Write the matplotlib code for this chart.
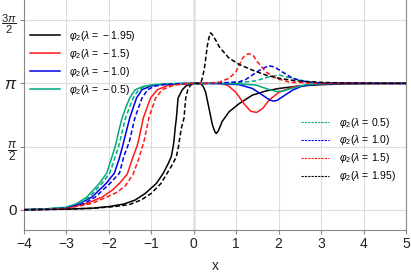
import numpy as np
import matplotlib
matplotlib.use('Agg')
import matplotlib.pyplot as plt
from matplotlib.lines import Line2D

plt.rcParams['font.family'] = 'Liberation Sans'
plt.rcParams['mathtext.fontset'] = 'custom'
plt.rcParams['mathtext.rm'] = 'Liberation Sans'
plt.rcParams['mathtext.it'] = 'Liberation Sans:italic'

# values, y in units of pi
# lambda = -1.95 (solid black)
x_m195 = [-4, -3.5, -3.0, -2.4, -2.0, -1.65, -1.38, -1.14, -0.88, -0.72, -0.60, -0.53, -0.485,
          -0.465, -0.44, -0.41, -0.37, -0.27, -0.18, -0.08, 0.0, 0.12, 0.18, 0.23, 0.28, 0.36,
          0.44, 0.50, 0.53, 0.58, 0.67, 0.75, 0.83, 1.07, 1.38, 1.70, 2.01, 2.49, 3.0, 3.5, 4.0, 5.0]
y_m195 = [0, 0.002, 0.005, 0.012, 0.025, 0.045, 0.077, 0.13, 0.209, 0.288, 0.367, 0.42, 0.50,
          0.55, 0.64, 0.725, 0.884, 0.95, 0.98, 0.995, 1.0, 1.0, 0.995, 0.97, 0.93, 0.80,
          0.67, 0.615, 0.604, 0.625, 0.70, 0.736, 0.775, 0.84, 0.907, 0.94, 0.96, 0.98, 0.99, 0.995, 0.998, 1.0]

# lambda = -1.5 (solid red)
x_m15 = [-4, -3.5, -3.0, -2.52, -2.16, -1.90, -1.75, -1.57, -1.50, -1.43, -1.34, -1.30, -1.19,
         -1.02, -0.86, -0.60, -0.30, 0.0, 0.4, 0.65, 0.80, 0.99, 1.18, 1.34, 1.48, 1.62, 1.78,
         2.01, 2.33, 2.8, 3.3, 5.0]
y_m15 = [0, 0.004, 0.012, 0.05, 0.10, 0.16, 0.21, 0.28, 0.35, 0.42, 0.50, 0.55, 0.725,
         0.884, 0.95, 0.985, 0.997, 1.0, 1.0, 0.997, 0.985, 0.93, 0.84, 0.78, 0.77, 0.80, 0.87,
         0.93, 0.97, 0.992, 0.998, 1.0]

# lambda = -1.0 (solid blue)
x_m10 = [-4, -3.5, -3.0, -2.68, -2.40, -2.06, -1.87, -1.76, -1.68, -1.51, -1.35, -1.22, -1.0,
         -0.8, -0.4, 0.0, 0.6, 1.07, 1.38, 1.62, 1.78, 1.87, 1.96, 2.09, 2.33, 2.56, 3.0, 3.5, 5.0]
y_m10 = [0, 0.005, 0.015, 0.05, 0.10, 0.21, 0.29, 0.40, 0.50, 0.725, 0.884, 0.95, 0.98,
         0.99, 0.998, 1.0, 1.0, 0.99, 0.96, 0.907, 0.87, 0.86, 0.865, 0.894, 0.947, 0.98, 0.997, 1.0, 1.0]

# lambda = -0.5 (solid teal)
x_m05 = [-4, -3.5, -3.0, -2.75, -2.52, -2.22, -2.05, -1.85, -1.77, -1.69, -1.60, -1.51, -1.38,
         -1.2, -1.0, -0.6, 0.0, 1.0, 1.46, 1.74, 1.95, 2.10, 2.33, 2.64, 3.1, 5.0]
y_m05 = [0, 0.007, 0.02, 0.05, 0.10, 0.21, 0.29, 0.50, 0.62, 0.725, 0.81, 0.884, 0.95,
         0.975, 0.988, 0.998, 1.0, 0.998, 0.987, 0.955, 0.935, 0.94, 0.963, 0.99, 0.999, 1.0]

# lambda = 0.5 (dashed teal)
x_p05 = [-4, -3.5, -3.0, -2.70, -2.46, -2.16, -1.98, -1.77, -1.61, -1.43, -1.30, -1.1, -0.9,
         -0.5, 0.0, 1.0, 1.46, 1.74, 2.01, 2.33, 2.64, 3.1, 5.0]
y_p05 = [0, 0.006, 0.018, 0.05, 0.10, 0.21, 0.29, 0.50, 0.725, 0.884, 0.95, 0.978, 0.99,
         0.998, 1.0, 1.003, 1.02, 1.05, 1.066, 1.04, 1.015, 1.001, 1.0]

# lambda = 1.0 (dashed blue)
x_p10 = [-4, -3.5, -3.0, -2.58, -2.32, -1.97, -1.75, -1.65, -1.56, -1.51, -1.39, -1.22, -1.09,
         -0.9, -0.7, -0.3, 0.5, 1.07, 1.22, 1.38, 1.46, 1.58, 1.76, 1.90, 2.09, 2.33, 2.64, 3.0, 5.0]
y_p10 = [0, 0.004, 0.013, 0.05, 0.10, 0.21, 0.29, 0.42, 0.50, 0.55, 0.725, 0.884, 0.95,
         0.98, 0.99, 0.998, 1.0, 1.013, 1.03, 1.066, 1.084, 1.11, 1.14, 1.13, 1.09, 1.04, 1.012, 1.002, 1.0]

# lambda = 1.5 (dashed red)
x_p15 = [-4, -3.5, -3.0, -2.40, -2.05, -1.80, -1.61, -1.43, -1.30, -1.21, -1.16, -1.06, -0.90,
         -0.745, -0.48, -0.15, 0.3, 0.6, 0.83, 0.99, 1.15, 1.22, 1.30, 1.40, 1.50, 1.70, 1.94,
         2.25, 2.8, 5.0]
y_p15 = [0, 0.003, 0.01, 0.05, 0.10, 0.14, 0.19, 0.28, 0.40, 0.50, 0.56, 0.725, 0.884,
         0.95, 0.985, 0.998, 1.0, 1.01, 1.04, 1.09, 1.20, 1.225, 1.235, 1.22, 1.17, 1.09, 1.04,
         1.01, 1.002, 1.0]

# lambda = 1.95 (dashed black)
x_p195 = [-4, -3.5, -3.0, -2.4, -1.9, -1.53, -1.24, -1.0, -0.77, -0.63, -0.50, -0.41, -0.36,
          -0.33, -0.29, -0.23, -0.19, -0.14, -0.08, 0.0, 0.12, 0.17, 0.21, 0.26, 0.32, 0.37,
          0.40, 0.45, 0.52, 0.60, 0.70, 0.83, 1.07, 1.38, 1.70, 2.01, 2.41, 3.0, 3.5, 4.0, 5.0]
y_p195 = [0, 0.002, 0.005, 0.011, 0.024, 0.040, 0.077, 0.13, 0.209, 0.288, 0.36, 0.42, 0.50,
          0.57, 0.65, 0.725, 0.884, 0.95, 0.985, 1.0, 1.0, 1.01, 1.05, 1.14, 1.30, 1.38,
          1.40, 1.38, 1.34, 1.29, 1.25, 1.20, 1.15, 1.105, 1.066, 1.04, 1.02, 1.008, 1.004, 1.002, 1.0]

teal = '#00a980'
solid_curves = [(x_m195, y_m195, 'black', r'$\varphi_2(\lambda\, =\, -1.95)$'),
                (x_m15, y_m15, '#ff1a1a', r'$\varphi_2(\lambda\, =\, -1.5)$'),
                (x_m10, y_m10, '#0000e6', r'$\varphi_2(\lambda\, =\, -1.0)$'),
                (x_m05, y_m05, teal, r'$\varphi_2(\lambda\, =\, -0.5)$')]
dashed_curves = [(x_p05, y_p05, teal, r'$\varphi_2(\lambda\, =\, 0.5)$'),
                 (x_p10, y_p10, '#0000e6', r'$\varphi_2(\lambda\, =\, 1.0)$'),
                 (x_p15, y_p15, '#ff1a1a', r'$\varphi_2(\lambda\, =\, 1.5)$'),
                 (x_p195, y_p195, 'black', r'$\varphi_2(\lambda\, =\, 1.95)$')]

fig = plt.figure(figsize=(4.11, 2.74), dpi=100)
ax = fig.add_axes([24 / 411, 44.3 / 274, 382 / 411, 229.7 / 274])

ax.grid(True, color='#dddddd', lw=0.8)
ax.axvline(0, color='#555555', lw=0.9, zorder=1.5)

h_solid = []
for xs, ys, c, lab in solid_curves:
    ax.plot(xs, np.array(ys) * np.pi, color=c, lw=1.1, zorder=3)
    h_solid.append(Line2D([], [], color=c, lw=1.1, label=lab))

h_dash = []
for xs, ys, c, lab in dashed_curves:
    ax.plot(xs, np.array(ys) * np.pi, color=c, lw=1.1, dashes=(3, 1.6), zorder=3)
    h_dash.append(Line2D([], [], color=c, lw=0.8, dashes=(2, 1), label=lab))

ax.set_xlim(-4, 5)
ax.set_ylim(-0.158 * np.pi, 1.66 * np.pi)
ax.set_xticks(range(-4, 6))
ax.set_xticklabels(['\u22124', '\u22123', '\u22122', '\u22121', '0', '1', '2', '3', '4', '5'])
ax.set_yticks([0, np.pi / 2, np.pi, 3 * np.pi / 2])
ax.set_yticklabels(['0', r'$\dfrac{\pi}{2}$', r'$\pi$', r'$\dfrac{3\pi}{2}$'])
ax.tick_params(direction='out', length=3, color='#888888', labelsize=10, labelcolor='#222222', pad=2)
for lab, fs in zip(ax.get_yticklabels(), [11, 8.5, 12, 8]):
    lab.set_fontsize(fs)
ax.set_xlabel('x', fontsize=10, color='#222222', labelpad=6)

for s in ['left', 'bottom', 'right']:
    ax.spines[s].set_color('#888888')
ax.spines['top'].set_visible(False)

leg1 = ax.legend(handles=h_solid, loc='upper left', bbox_to_anchor=(0.0157, 0.875),
                 frameon=False, fontsize=7.5, handlelength=2.9, handletextpad=0.8,
                 labelspacing=0.38, borderpad=0, borderaxespad=0)
ax.add_artist(leg1)
ax.legend(handles=h_dash, loc='upper left', bbox_to_anchor=(0.725, 0.497),
          frameon=False, fontsize=7.5, handlelength=2.7, handletextpad=1.0,
          labelspacing=0.38, borderpad=0, borderaxespad=0)

fig.savefig('out.png', dpi=100)
